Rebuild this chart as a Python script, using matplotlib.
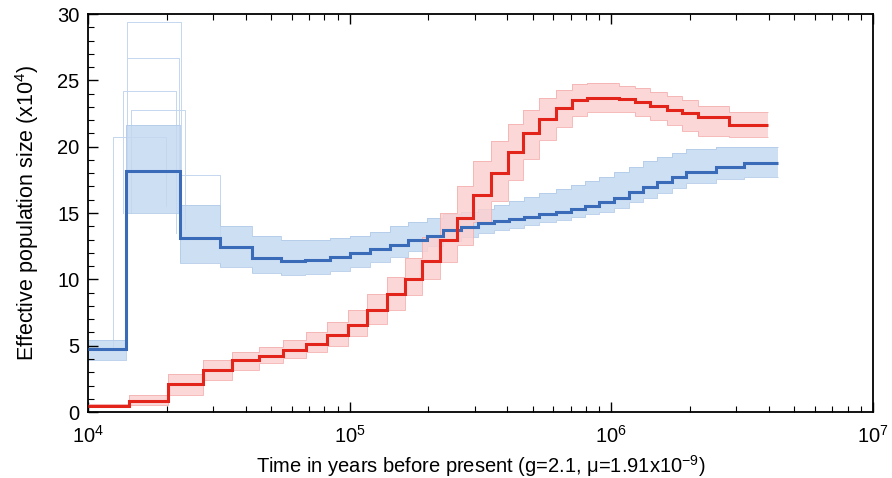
import numpy as np
import matplotlib
matplotlib.use("Agg")
import matplotlib.pyplot as plt
from matplotlib.ticker import LogLocator, MultipleLocator, NullFormatter

plt.rcParams['font.family'] = ['Liberation Sans', 'DejaVu Sans']
plt.rcParams['mathtext.fontset'] = 'custom'
plt.rcParams['mathtext.rm'] = 'Liberation Sans'
plt.rcParams['mathtext.it'] = 'Liberation Sans:italic'

# red population: step edges (years) and Ne (x10^4), with bootstrap spread
red_edges = [10000, 14340, 20200, 27470, 35440, 44950, 55500, 67950, 81700, 98200,
             116100, 138400, 162200, 188300, 220600, 256100, 294800, 347400, 401000,
             461500, 531200, 616800, 709800, 809900, 1073000, 1235000, 1409000,
             1632000, 1866000, 2142000, 2821000, 3974000]
red_ne = [0.47, 0.83, 2.1, 3.19, 3.92, 4.24, 4.67, 5.15, 5.8, 6.56, 7.69, 8.89, 10.0,
          11.4, 13.0, 14.6, 16.35, 18.0, 19.6, 21.0, 22.1, 22.9, 23.5, 23.7, 23.6,
          23.35, 23.06, 22.8, 22.55, 22.25, 21.6]
red_low = [0.4, 0.5, 1.3, 2.4, 3.2, 3.7, 4.1, 4.5, 5.0, 5.7, 6.6, 7.7, 8.8, 10.0, 11.3,
           12.6, 14.3, 15.9, 17.5, 19.1, 20.5, 21.5, 22.3, 22.6, 22.6, 22.3, 22.0,
           21.6, 21.2, 20.8, 20.7]
red_high = [0.6, 1.3, 2.9, 3.9, 4.5, 4.9, 5.4, 6.0, 6.8, 7.7, 8.9, 10.2, 11.6, 13.2,
            15.0, 17.0, 18.9, 20.4, 21.7, 22.8, 23.7, 24.3, 24.7, 24.8, 24.6, 24.4,
            24.1, 23.8, 23.5, 23.1, 22.6]

# blue population
blue_edges = [10000, 13960, 22440, 31900, 42270, 54530, 67340, 83880, 100000, 119200,
              142100, 166500, 196700, 226500, 265300, 308100, 354500, 408000, 465600,
              531200, 616800, 703600, 795700, 900000, 1027000, 1171000, 1325000,
              1498000, 1709000, 1933000, 2517000, 3218000, 4340000]
blue_ne = [4.75, 18.2, 13.13, 12.41, 11.58, 11.38, 11.45, 11.72, 12.0, 12.3, 12.62,
           12.97, 13.3, 13.7, 13.98, 14.22, 14.38, 14.55, 14.72, 14.92, 15.1, 15.3,
           15.5, 15.8, 16.15, 16.55, 16.95, 17.35, 17.75, 18.1, 18.5, 18.75]
blue_low = [3.9, 15.0, 11.2, 10.9, 10.5, 10.3, 10.4, 10.6, 10.9, 11.3, 11.7, 12.1,
            12.5, 12.9, 13.2, 13.5, 13.7, 13.9, 14.1, 14.3, 14.5, 14.7, 14.9, 15.1,
            15.4, 15.8, 16.1, 16.5, 16.9, 17.3, 17.6, 17.7]
blue_high = [5.4, 21.6, 15.6, 14.0, 13.3, 13.0, 13.0, 13.1, 13.3, 13.6, 14.0, 14.3,
             14.6, 14.9, 15.1, 15.3, 15.6, 15.9, 16.2, 16.5, 16.8, 17.1, 17.4, 17.7,
             18.1, 18.5, 18.9, 19.2, 19.5, 19.8, 20.0, 20.0]

# a few outlying blue bootstrap runs around the early peak
spike_start = [14090, 14090, 13600, 14590, 12460, 22650]
spike_end = [22650, 22250, 21670, 23460, 19850, 31900]
spike_ne = [29.4, 26.65, 24.2, 22.76, 20.75, 17.9]
spike_from = [15.0, 15.0, 15.0, 15.0, 4.8, 13.2]
spike_to = [13.5, 13.5, 13.5, 13.8, 15.5, 13.0]

fig = plt.figure(figsize=(8.92, 4.78), dpi=100)
ax = fig.add_axes([0.0987, 0.138, 0.88, 0.8327])

blue_main = '#3a6bb8'
blue_band = '#cddff2'
blue_edge = '#b3cbe9'
red_main = '#e3241b'
red_band = '#fbd0d0'
red_edge = '#f5b0b0'

# bootstrap bands
ax.stairs(blue_high, blue_edges, baseline=blue_low, fill=True, color=blue_band, zorder=1)
ax.stairs(blue_high, blue_edges, baseline=None, color=blue_edge, lw=0.6, zorder=1.5)
ax.stairs(blue_low, blue_edges, baseline=None, color=blue_edge, lw=0.6, zorder=1.5)
for s, e, v, b0, b1 in zip(spike_start, spike_end, spike_ne, spike_from, spike_to):
    ax.plot([s, s, e, e], [b0, v, v, b1], color='#c4d7ef', lw=0.7, zorder=1.2)

ax.stairs(red_high, red_edges, baseline=red_low, fill=True, color=red_band, alpha=0.85, zorder=2)
ax.stairs(red_high, red_edges, baseline=None, color=red_edge, lw=0.6, zorder=2.5)
ax.stairs(red_low, red_edges, baseline=None, color=red_edge, lw=0.6, zorder=2.5)

# main estimates
ax.stairs(blue_ne, blue_edges, baseline=None, color=blue_main, lw=2.2, zorder=4)
ax.stairs(red_ne, red_edges, baseline=None, color=red_main, lw=2.2, zorder=4)

ax.set_xscale('log')
ax.set_xlim(1e4, 1e7)
ax.set_ylim(0, 30)
ax.xaxis.set_major_locator(LogLocator(base=10, numticks=10))
ax.xaxis.set_minor_locator(LogLocator(base=10, subs=np.arange(2, 10), numticks=20))
ax.xaxis.set_minor_formatter(NullFormatter())
ax.yaxis.set_major_locator(MultipleLocator(5))
ax.yaxis.set_minor_locator(MultipleLocator(1))

ax.tick_params(which='both', direction='in', top=True, right=False, labelsize=14.5)
ax.tick_params(axis='x', pad=9)
ax.tick_params(axis='y', pad=6)
ax.tick_params(which='major', length=7, width=1)
ax.tick_params(which='minor', length=4, width=0.8)
for sp in ax.spines.values():
    sp.set_linewidth(1.3)

ax.set_xlabel('Time in years before present (g=2.1, \u03bc=1.91x10$^{-9}$)', fontsize=14.5, labelpad=5)
ax.set_ylabel('Effective population size (x10$^{4}$)', fontsize=15.5, labelpad=12)

fig.savefig('out.png', dpi=100)
